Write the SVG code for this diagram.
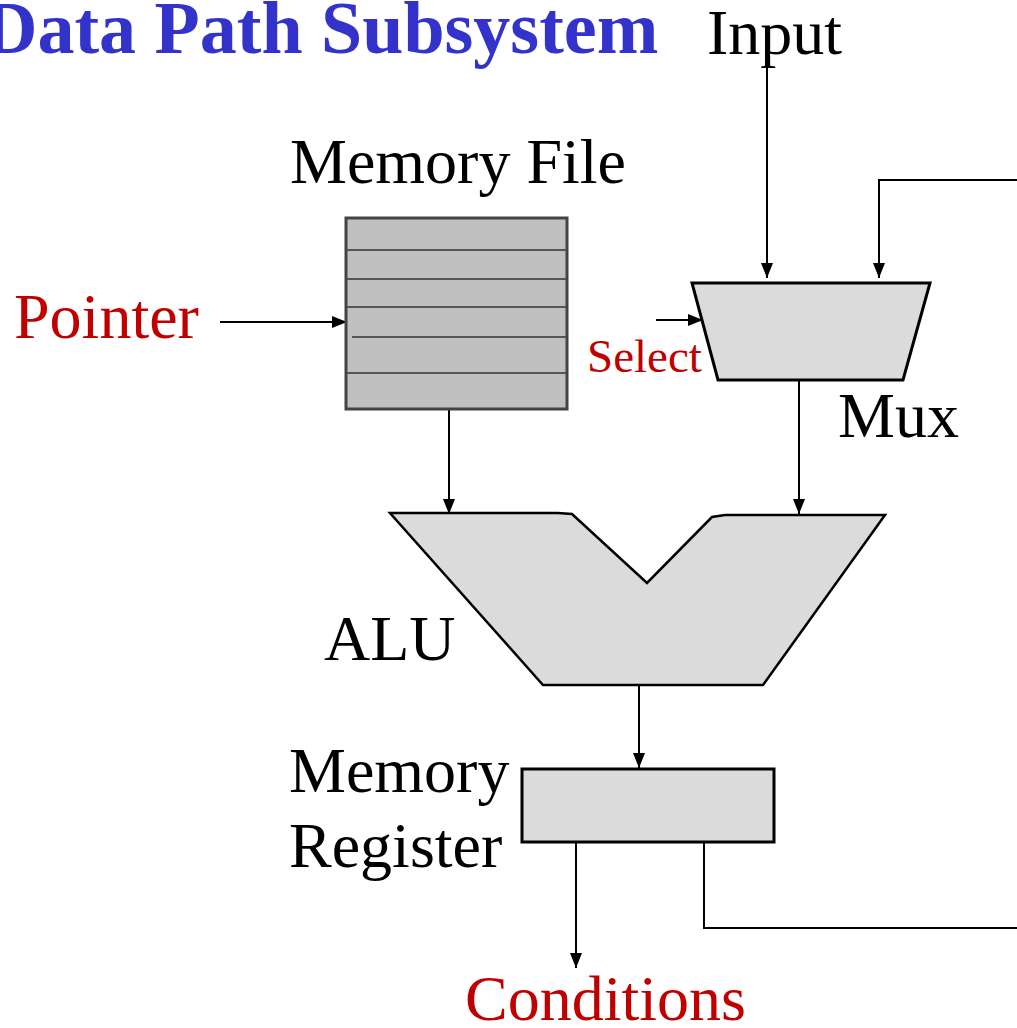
<svg xmlns="http://www.w3.org/2000/svg" width="1017" height="1028" viewBox="0 0 1017 1028">
<defs>
<style>
.t{font-family:"Liberation Serif","Times New Roman",serif;font-size:64px;fill:#000}
.red{fill:#c00000}
.title{font-family:"Liberation Serif","Times New Roman",serif;font-size:74px;font-weight:bold;fill:#3333cc}
.w{fill:none;stroke:#000;stroke-width:2}
.a{fill:none;stroke:#000;stroke-width:2;marker-end:url(#ah)}
.blk{fill:#dcdbdc;stroke:#000;stroke-width:3}
.rows{fill:none;stroke:#555;stroke-width:2}
</style>
<marker id="ah" viewBox="0 0 15 12" refX="15" refY="6" markerWidth="15" markerHeight="12" markerUnits="userSpaceOnUse" orient="auto">
<path d="M0,0 L15,6 L0,12 z" fill="#000"/>
</marker>
</defs>
<rect width="1017" height="1028" fill="#fff"/>
<text class="title" x="-16" y="53">Data Path Subsystem</text>

<g id="connectors">
<line class="a" x1="767" y1="62" x2="767" y2="278"/>
<polyline class="a" points="1017,180 879,180 879,278"/>
<line class="a" x1="220" y1="322" x2="347" y2="322"/>
<line class="a" x1="656" y1="320" x2="703" y2="320"/>
<line class="a" x1="449" y1="405" x2="449" y2="514"/>
<line class="a" x1="799" y1="381" x2="799" y2="514"/>
<line class="a" x1="639" y1="686" x2="639" y2="768"/>
<line class="a" x1="576" y1="843" x2="576" y2="968"/>
<polyline class="w" points="704,843 704,928 1017,928"/>
</g>

<g id="memory-file">
<rect x="346" y="218" width="221" height="191" fill="#c0c0c0" stroke="#444" stroke-width="3"/>
<line class="rows" x1="347" y1="250" x2="566" y2="250"/>
<line class="rows" x1="347" y1="279" x2="566" y2="279"/>
<line class="rows" x1="347" y1="307" x2="566" y2="307"/>
<line class="rows" x1="352" y1="337" x2="566" y2="337"/>
<line class="rows" x1="347" y1="373" x2="566" y2="373"/>
<text class="t" x="290" y="183">Memory File</text>
</g>

<g id="pointer">
<text class="t red" x="14" y="338">Pointer</text>
</g>

<g id="input">
<text class="t" x="707" y="54">Input</text>
</g>

<g id="mux">
<polygon class="blk" points="692,283 930,283 903,380 718,380"/>
<text class="t" x="838" y="437">Mux</text>
<text class="t red" x="587" y="372" style="font-size:47px">Select</text>
</g>

<g id="alu">
<polygon class="blk" style="stroke-width:2.5" points="390,513 558,513 572,514 647,583 712,517 725,515 885,515 763,685 543,685"/>
<text class="t" x="324" y="660">ALU</text>
</g>

<g id="memory-register">
<rect class="blk" x="522" y="769" width="252" height="73"/>
<text class="t" x="289" y="792">Memory</text>
<text class="t" x="289" y="867">Register</text>
</g>

<g id="conditions">
<text class="t red" x="465" y="1020">Conditions</text>
</g>
</svg>
